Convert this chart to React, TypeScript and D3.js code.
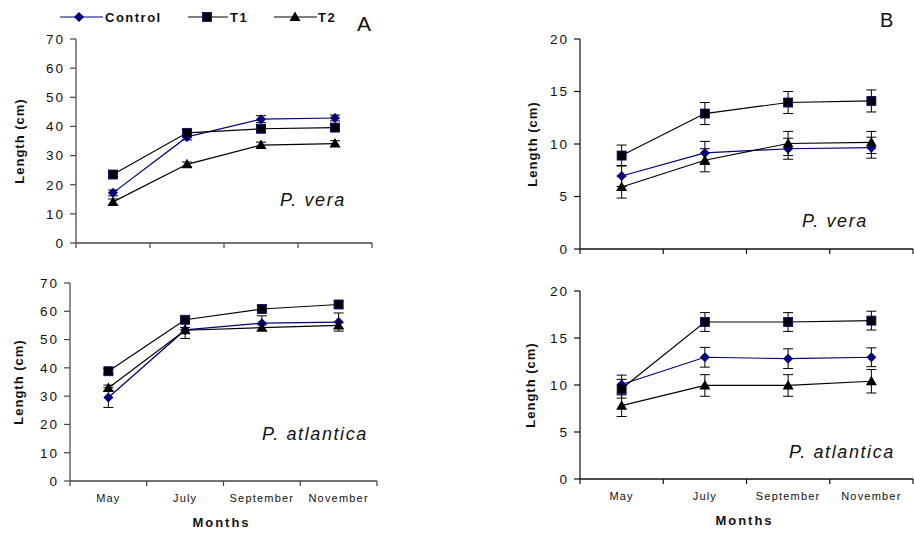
import * as d3 from 'd3';

const months = ['May', 'July', 'September', 'November'];
const seriesNames = ['Control', 'T1', 'T2'];

// Panel A, P. vera (0-70)
const veraAControl = [17.2, 36.4, 42.5, 42.9];
const veraAControlErr = [1, 1, 1.2, 1];
const veraAT1 = [23.5, 37.8, 39.2, 39.6];
const veraAT1Err = [0.8, 0.8, 1, 0.8];
const veraAT2 = [14.1, 27, 33.6, 34.1];
const veraAT2Err = [1, 0.8, 1, 1];

// Panel A, P. atlantica (0-70)
const atlAControl = [29.5, 53.4, 55.8, 56.2];
const atlAControlErr = [3.5, 3, 2.6, 3.2];
const atlAT1 = [38.8, 57, 60.8, 62.4];
const atlAT1Err = [1, 1, 1, 1];
const atlAT2 = [32.9, 53.3, 54.2, 55];
const atlAT2Err = [1, 1, 1, 1];

// Panel B, P. vera (0-20)
const veraBControl = [6.95, 9.15, 9.55, 9.65];
const veraBControlErr = [1, 1.1, 1, 1];
const veraBT1 = [8.9, 12.9, 13.95, 14.1];
const veraBT1Err = [1, 1.05, 1.05, 1.05];
const veraBT2 = [5.9, 8.45, 10.05, 10.15];
const veraBT2Err = [1.05, 1.1, 1.15, 1.05];

// Panel B, P. atlantica (0-20)
const atlBControl = [10.05, 12.95, 12.8, 12.95];
const atlBControlErr = [1, 1.05, 1.05, 1];
const atlBT1 = [9.6, 16.7, 16.7, 16.85];
const atlBT1Err = [1, 1, 1, 1];
const atlBT2 = [7.8, 9.95, 9.95, 10.4];
const atlBT2Err = [1.15, 1.15, 1.15, 1.25];

const ticksA = [0, 10, 20, 30, 40, 50, 60, 70];
const ticksB = [0, 5, 10, 15, 20];

const NAVY = '#000080';
const FONT = "'Liberation Sans', Arial, sans-serif";

const Marker = ({ kind, x, y }) => {
  if (kind === 'Control')
    return <path d={`M${x},${y - 5}L${x + 5},${y}L${x},${y + 5}L${x - 5},${y}Z`} fill={NAVY} />;
  if (kind === 'T1')
    return <rect x={x - 4.5} y={y - 4.5} width={9} height={9} fill="#000" stroke={NAVY} strokeWidth={0.8} />;
  return <path d={`M${x},${y - 5.5}L${x + 5.5},${y + 4}L${x - 5.5},${y + 4}Z`} fill="#000" />;
};

const Panel = ({ box, max, ticks, series, species, speciesPos, showLabels, axisColor, titleX }) => {
  const x = d3.scaleBand().domain(months).range([box.x0, box.x1]);
  const y = d3.scaleLinear().domain([0, max]).range([box.y1, box.y0]);
  const line = d3.line<number>().x((_, i) => x(months[i])! + x.bandwidth() / 2).y(d => y(d));
  const bounds = d3.range(months.length + 1).map(i => box.x0 + i * x.step());
  return (
    <g fontFamily={FONT}>
      {series.map(s => (
        <g key={s.name}>
          {s.values.map((v, i) => {
            const cx = x(months[i])! + x.bandwidth() / 2;
            return (
              <g key={i} stroke="#000" strokeWidth={1}>
                <line x1={cx} x2={cx} y1={y(v - s.err[i])} y2={y(v + s.err[i])} />
                <line x1={cx - 5} x2={cx + 5} y1={y(v - s.err[i])} y2={y(v - s.err[i])} />
                <line x1={cx - 5} x2={cx + 5} y1={y(v + s.err[i])} y2={y(v + s.err[i])} />
              </g>
            );
          })}
        </g>
      ))}
      {series.map(s => (
        <path key={s.name} d={line(s.values)!} fill="none" stroke={s.name === 'Control' ? NAVY : '#000'} strokeWidth={1.2} />
      ))}
      {series.map(s =>
        s.values.map((v, i) => (
          <Marker key={s.name + i} kind={s.name} x={x(months[i])! + x.bandwidth() / 2} y={y(v)} />
        ))
      )}
      {/* axes */}
      <line x1={box.x0} x2={box.x0} y1={box.y0} y2={box.y1 + 5} stroke={axisColor} strokeWidth={1.2} />
      <line x1={box.x0} x2={box.x1} y1={box.y1} y2={box.y1} stroke={axisColor} strokeWidth={1.4} />
      {ticks.map(t => (
        <g key={t}>
          <line x1={box.x0 - 6} x2={box.x0} y1={y(t)} y2={y(t)} stroke={axisColor} strokeWidth={1.2} />
          <text x={box.x0 - 11} y={y(t)} dy="0.36em" textAnchor="end" fontSize={13.5} fill="#111" letterSpacing={2}>
            {t}
          </text>
        </g>
      ))}
      {bounds.slice(1).map(b => (
        <line key={b} x1={b} x2={b} y1={box.y1} y2={box.y1 + 5} stroke={axisColor} strokeWidth={1.2} />
      ))}
      {showLabels &&
        months.map(m => (
          <text key={m} x={x(m)! + x.bandwidth() / 2} y={box.y1 + 21} textAnchor="middle" fontSize={11} letterSpacing={1.2} fill="#111">
            {m}
          </text>
        ))}
      {showLabels && (
        <text x={(box.x0 + box.x1) / 2 - 2} y={box.y1 + 46} textAnchor="middle" fontSize={13} fontWeight="bold" letterSpacing={2} fill="#111">
          Months
        </text>
      )}
      <text
        transform={`translate(${titleX},${(box.y0 + box.y1) / 2}) rotate(-90)`}
        textAnchor="middle"
        dy="0.35em"
        fontSize={13}
        fontWeight="bold"
        letterSpacing={1}
        fill="#111"
      >
        Length (cm)
      </text>
      <text x={speciesPos[0]} y={speciesPos[1]} fontSize={18} fontStyle="italic" letterSpacing={1.6} fill="#111">
        {species}
      </text>
    </g>
  );
};

const mk = (vals, errs) => seriesNames.map((name, i) => ({ name, values: vals[i], err: errs[i] }));

export default function App() {
  return (
    <svg width={914} height={533} style={{ position: 'absolute', left: 0, top: 0, background: '#fff' }}>
      <rect width={914} height={533} fill="#fff" />
      <Panel
        box={{ x0: 76, x1: 372, y0: 39, y1: 243 }}
        max={70}
        ticks={ticksA}
        series={mk([veraAControl, veraAT1, veraAT2], [veraAControlErr, veraAT1Err, veraAT2Err])}
        species="P. vera"
        speciesPos={[280, 206]}
        showLabels={false}
        axisColor="#444"
        titleX={19}
      />
      <Panel
        box={{ x0: 70, x1: 377, y0: 283, y1: 481 }}
        max={70}
        ticks={ticksA}
        series={mk([atlAControl, atlAT1, atlAT2], [atlAControlErr, atlAT1Err, atlAT2Err])}
        species="P. atlantica"
        speciesPos={[262, 440]}
        showLabels={true}
        axisColor="#444"
        titleX={18}
      />
      <Panel
        box={{ x0: 580, x1: 913, y0: 39, y1: 249 }}
        max={20}
        ticks={ticksB}
        series={mk([veraBControl, veraBT1, veraBT2], [veraBControlErr, veraBT1Err, veraBT2Err])}
        species="P. vera"
        speciesPos={[802, 227]}
        showLabels={false}
        axisColor="#111"
        titleX={532}
      />
      <Panel
        box={{ x0: 580, x1: 913, y0: 291, y1: 479 }}
        max={20}
        ticks={ticksB}
        series={mk([atlBControl, atlBT1, atlBT2], [atlBControlErr, atlBT1Err, atlBT2Err])}
        species="P. atlantica"
        speciesPos={[789, 458]}
        showLabels={true}
        axisColor="#111"
        titleX={530}
      />
      {/* legend */}
      <g fontFamily={FONT} fontWeight="bold" fontSize={13} fill="#111" letterSpacing={1.5}>
        <line x1={60} x2={103} y1={17} y2={17} stroke={NAVY} strokeWidth={1.2} />
        <Marker kind="Control" x={79} y={17} />
        <text x={105} y={17} dy="0.35em">Control</text>
        <line x1={188} x2={228} y1={17} y2={17} stroke="#000" strokeWidth={1.2} />
        <Marker kind="T1" x={207} y={17} />
        <text x={230} y={17} dy="0.35em">T1</text>
        <line x1={274} x2={317} y1={17} y2={17} stroke="#000" strokeWidth={1.2} />
        <Marker kind="T2" x={295} y={17} />
        <text x={318} y={17} dy="0.35em">T2</text>
      </g>
      <text x={357} y={31} fontFamily={FONT} fontSize={21} fill="#111">A</text>
      <text x={880} y={27} fontFamily={FONT} fontSize={20} fill="#111">B</text>
    </svg>
  );
}
